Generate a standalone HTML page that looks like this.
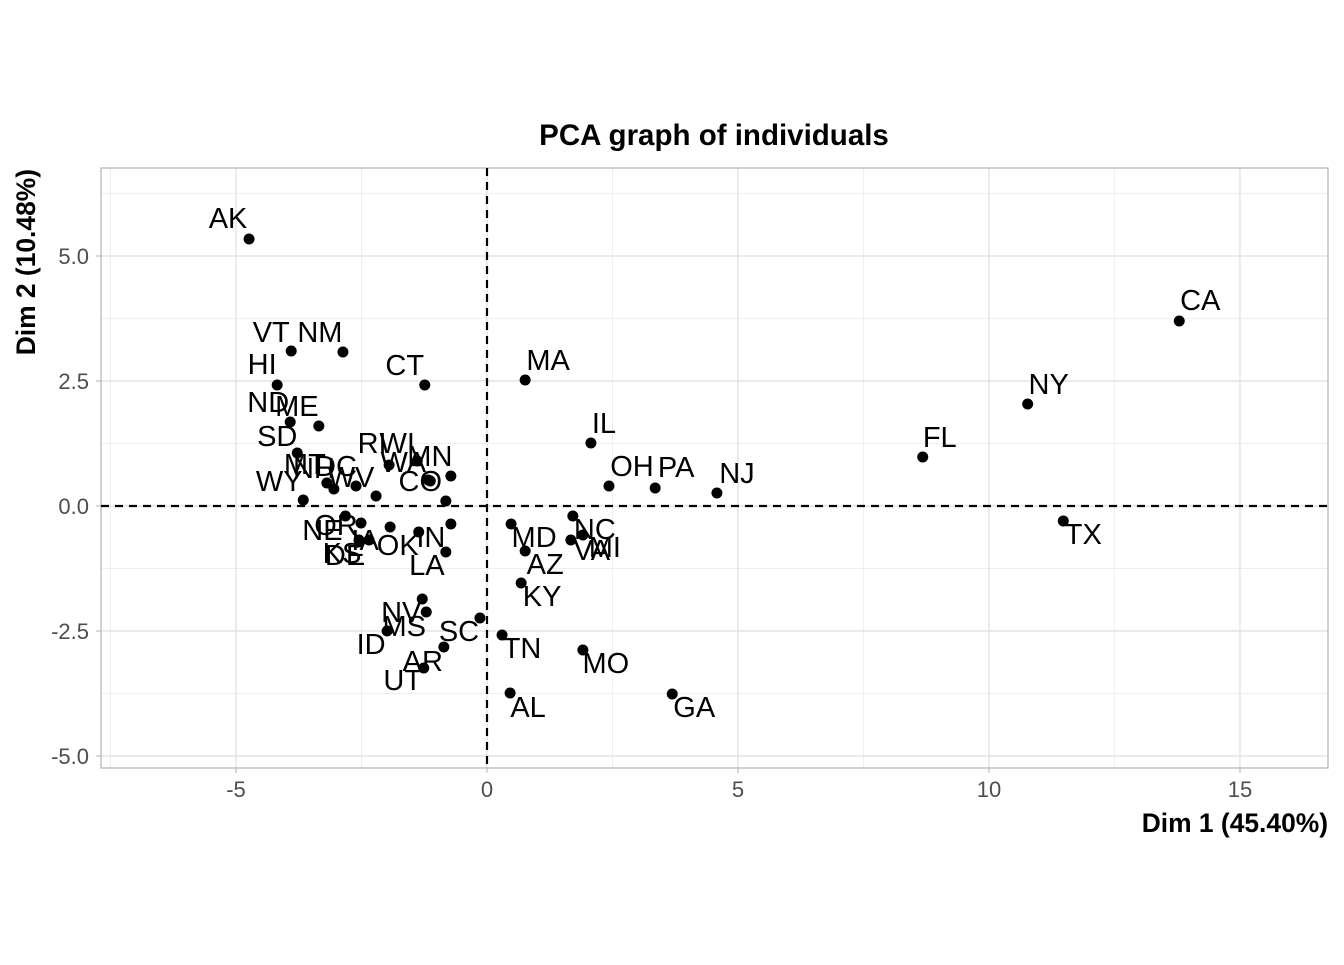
<!DOCTYPE html>
<html><head><meta charset="utf-8"><style>
body{margin:0;background:#fff}
svg text{font-family:"Liberation Sans",sans-serif}
</style></head><body>
<svg id="chart" width="1344" height="960" xmlns="http://www.w3.org/2000/svg">
<rect width="1344" height="960" fill="#fff"/>
<g id="grid"></g><g id="marks"></g><g id="labels"></g><g id="axes"></g>
<text x="714" y="145" text-anchor="middle" font-size="29.5" font-weight="bold">PCA graph of individuals</text>
<text x="1328" y="832" text-anchor="end" font-size="26.4" font-weight="bold">Dim 1 (45.40%)</text>
<text transform="translate(35,169) rotate(-90)" text-anchor="end" font-size="26.4" font-weight="bold">Dim 2 (10.48%)</text>
</svg>
<script>
const states=["AK","VT","NM","HI","CT","MA","ND","ME","SD","MT","NH","DC","WY","WV","RI","WI","WA","MN","CO","NE","OR","DE","IA","OK","KS","IN","LA","NV","MS","ID","SC","AR","UT","TN","AL","MO","GA","KY","AZ","MD","NC","VA","MI","IL","OH","PA","NJ","FL","NY","CA","TX",""];
const dim1=[-4.74,-3.90,-2.87,-4.18,-1.24,0.76,-3.92,-3.35,-3.78,-3.19,-3.05,-2.61,-3.66,-2.21,-1.95,-1.39,-1.13,-0.72,-1.17,-2.82,-2.51,-2.35,-1.93,-1.36,-2.55,-0.72,-0.82,-1.29,-1.21,-1.99,-0.14,-0.86,-1.26,0.30,0.46,1.91,3.69,0.68,0.76,0.48,1.71,1.67,1.91,2.07,2.43,3.35,4.58,8.68,10.77,13.79,11.48,-0.82];
const dim2=[5.34,3.10,3.08,2.42,2.42,2.52,1.68,1.60,1.06,0.46,0.34,0.40,0.12,0.20,0.82,0.90,0.50,0.60,0.52,-0.20,-0.34,-0.68,-0.42,-0.52,-0.68,-0.36,-0.92,-1.86,-2.12,-2.50,-2.24,-2.82,-3.24,-2.58,-3.74,-2.88,-3.76,-1.54,-0.90,-0.36,-0.20,-0.68,-0.58,1.26,0.40,0.36,0.26,0.98,2.04,3.70,-0.30,0.10];
const labelDx=[-21,-20,-23,-15,-20,23,-22,-22,-20,-22,-20,-20,-24,-25,-17,-20,-27,-21,-8,-23,-25,-24,-25,-21,-17,-20,-19,-21,-22,-16,-21,-21,-21,20,18,23,22,21,20,23,22,21,22,13,23,21,20,17,21,21,20,0];
const labelDy=[-21,-19,-20,-21,-20,-20,-20,-20,-17,-19,-21,-20,-19,-19,-22,-18,-19,-20,1,14,2,15,13,13,13,13,13,13,14,13,13,14,12,13,14,13,13,13,13,13,13,10,12,-20,-20,-21,-20,-20,-20,-21,13,0];
const xTicks=[-5,0,5,10,15];
const yTicks=[-5,-2.5,0,2.5,5];
const xTickLabels=["-5","0","5","10","15"];
const yTickLabels=["-5.0","-2.5","0.0","2.5","5.0"];
const L=101,R=1328,T=168,B=768;
const sx=v=>487+v*50.2, sy=v=>506-v*50;
const NS="http://www.w3.org/2000/svg";
function mk(parent,tag,attrs){const e=document.createElementNS(NS,tag);for(const k in attrs)e.setAttribute(k,attrs[k]);document.getElementById(parent).appendChild(e);return e;}
for(let i=0;i<xTicks.length;i++){
  const mx=sx(xTicks[i]-2.5);
  if(mx>L){const g=mk("grid","line",{x1:mx,x2:mx,y1:T,y2:B,stroke:"#efefef","stroke-width":1});
  
  }
}
const mx2=sx(xTicks[xTicks.length-1]+2.5);
if(mx2<R){mk("grid","line",{x1:mx2,x2:mx2,y1:T,y2:B,stroke:"#efefef"});}
for(let i=0;i<yTicks.length;i++){
  for(const d of [-1.25,1.25]){
    const my=sy(yTicks[i]+d);
    if(my>T&&my<B){const g=mk("grid","line",{x1:L,x2:R,y1:my,y2:my,stroke:"#efefef","stroke-width":1});
    
    }
  }
}
xTicks.forEach((v,i)=>{
  const g=mk("grid","line",{x1:sx(v),x2:sx(v),y1:T,y2:B,stroke:"#dedede","stroke-width":1.2});
  
  
  const tk=mk("axes","line",{x1:sx(v),x2:sx(v),y1:B,y2:B+5,stroke:"#b3b3b3"});
  
  
  const t=mk("axes","text",{x:sx(v),y:B+29,"text-anchor":"middle","font-size":"22",fill:"#4d4d4d"});
  t.textContent=xTickLabels[i];
  
  
});
yTicks.forEach((v,i)=>{
  const g=mk("grid","line",{x1:L,x2:R,y1:sy(v),y2:sy(v),stroke:"#dedede","stroke-width":1.2});
  
  
  const tk=mk("axes","line",{x1:L-5,x2:L,y1:sy(v),y2:sy(v),stroke:"#b3b3b3"});
  
  
  const t=mk("axes","text",{x:L-12,y:sy(v)+8,"text-anchor":"end","font-size":"22",fill:"#4d4d4d"});
  t.textContent=yTickLabels[i];
  
  
});
const border=mk("axes","rect",{x:L,y:T,width:R-L,height:B-T,fill:"none",stroke:"#b3b3b3","stroke-width":1.2});


const h=mk("axes","line",{x1:L,x2:R,y1:sy(0),y2:sy(0),stroke:"#000","stroke-width":2.2,"stroke-dasharray":"8,6"});


const vl=mk("axes","line",{x1:sx(0),x2:sx(0),y1:T,y2:B,stroke:"#000","stroke-width":2.2,"stroke-dasharray":"8,6"});


states.forEach((s,i)=>{
  const px=sx(dim1[i]),py=sy(dim2[i]);
  const c=mk("marks","circle",{cx:px,cy:py,r:5.5,fill:"#000"});
  
  
  if(s){
    const t=mk("labels","text",{x:px+labelDx[i],y:py+labelDy[i]+10,"text-anchor":"middle","font-size":"29",fill:"#000"});
    t.textContent=s;
    
    
  }
});
</script>
</body></html>
